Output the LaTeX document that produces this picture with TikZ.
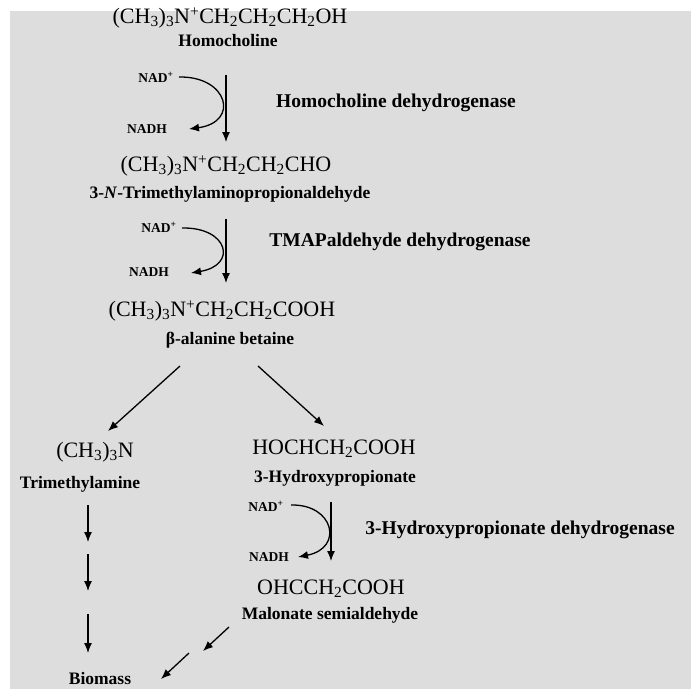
\documentclass[tikz,border=0pt]{standalone}
\usepackage{fontspec}
\setmainfont{Liberation Serif}
\usetikzlibrary{arrows.meta}
\definecolor{bg}{HTML}{DDDDDD}
\tikzset{
  formula/.style={inner sep=0pt, font=\fontsize{22}{25}\selectfont},
  cname/.style={inner sep=0pt, font=\bfseries\fontsize{17.5}{20}\selectfont},
  enzyme/.style={inner sep=0pt, font=\bfseries\fontsize{19.5}{22}\selectfont},
  cofactor/.style={inner sep=0pt, font=\bfseries\fontsize{13.5}{15}\selectfont},
  rxn/.style={line width=1.3pt, -{Latex[length=10pt,width=8pt]}},
}
\newcommand{\sbs}[1]{\textsubscript{#1}}
\newcommand{\sps}[1]{\textsuperscript{#1}}
\begin{document}
\begin{tikzpicture}[x=1pt,y=-1pt]
\useasboundingbox (0,0) rectangle (691,689);
\fill[white] (0,0) rectangle (691,689);
\fill[bg] (10,11) rectangle (691,689);

% compounds
\node[formula] (f1) at (230,18) {(CH\sbs{3})\sbs{3}N\sps{+}CH\sbs{2}CH\sbs{2}CH\sbs{2}OH};
\node[cname] (n1) at (228,41) {Homocholine};
\node[formula] (f2) at (226,166) {(CH\sbs{3})\sbs{3}N\sps{+}CH\sbs{2}CH\sbs{2}CHO};
\node[cname] (n2) at (230,194) {3-\textit{N}-Trimethylaminopropionaldehyde};
\node[formula] (f3) at (222,311) {(CH\sbs{3})\sbs{3}N\sps{+}CH\sbs{2}CH\sbs{2}COOH};
\node[cname] (n3) at (230,340) {β-alanine betaine};
\node[formula] (f4) at (95,452) {(CH\sbs{3})\sbs{3}N};
\node[cname] (n4) at (80,484) {Trimethylamine};
\node[formula] (f5) at (334,449) {HOCHCH\sbs{2}COOH};
\node[cname] (n5) at (335,478) {3-Hydroxypropionate};
\node[formula] (f6) at (331,589) {OHCCH\sbs{2}COOH};
\node[cname] (n6) at (330,615) {Malonate semialdehyde};
\node[cname] (bio) at (100,679) {Biomass};

% enzymes
\node[enzyme] (e1) at (396,103) {Homocholine dehydrogenase};
\node[enzyme] (e2) at (400,242) {TMAPaldehyde dehydrogenase};
\node[enzyme] (e3) at (520,530) {3-Hydroxypropionate dehydrogenase};

% cofactors
\node[cofactor] (nad1) at (156,77) {NAD\sps{+}};
\node[cofactor] (nadh1) at (147,129) {NADH};
\node[cofactor] (nad2) at (159,227) {NAD\sps{+}};
\node[cofactor] (nadh2) at (149,272) {NADH};
\node[cofactor] (nad3) at (266,506) {NAD\sps{+}};
\node[cofactor] (nadh3) at (269,557) {NADH};

% coordinates for arrows
\coordinate (a1s) at (226,75);  \coordinate (a1e) at (226,142);
\coordinate (a2s) at (226,219); \coordinate (a2e) at (226,283);
\coordinate (a3s) at (331,502); \coordinate (a3e) at (331,561);
\coordinate (c1s) at (179,77);  \coordinate (c1e) at (189,129);
\coordinate (c2s) at (182,228); \coordinate (c2e) at (191,273);
\coordinate (c3s) at (291,505); \coordinate (c3e) at (298,557);
\coordinate (dls) at (180,366); \coordinate (dle) at (108,431);
\coordinate (drs) at (258,366); \coordinate (dre) at (324,426);
\coordinate (t1s) at (88,505);  \coordinate (t1e) at (88,542);
\coordinate (t2s) at (88,554);  \coordinate (t2e) at (88,591);
\coordinate (t3s) at (88,614);  \coordinate (t3e) at (88,653);
\coordinate (m1s) at (229,627); \coordinate (m1e) at (203,651);
\coordinate (m2s) at (189,653); \coordinate (m2e) at (161,679);

% reaction arrows
\draw[rxn] (a1s) -- (a1e);
\draw[rxn] (a2s) -- (a2e);
\draw[rxn] (a3s) -- (a3e);
\draw[rxn] (c1s) .. controls (228,76) and (240,122) .. (c1e);
\draw[rxn] (c2s) .. controls (228,227) and (238,265) .. (c2e);
\draw[rxn] (c3s) .. controls (334,504) and (344,548) .. (c3e);
\draw[rxn] (dls) -- (dle);
\draw[rxn] (drs) -- (dre);
\draw[rxn] (t1s) -- (t1e);
\draw[rxn] (t2s) -- (t2e);
\draw[rxn] (t3s) -- (t3e);
\draw[rxn] (m1s) -- (m1e);
\draw[rxn] (m2s) -- (m2e);
\end{tikzpicture}
\end{document}
